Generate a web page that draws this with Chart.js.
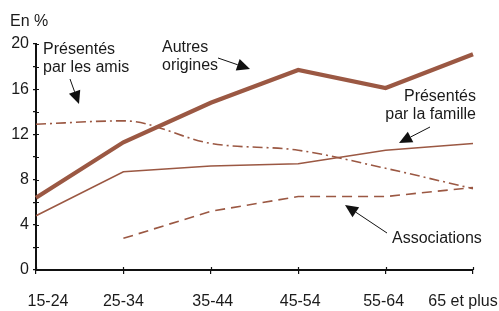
<!DOCTYPE html>
<html>
<head>
<meta charset="utf-8">
<script src="https://cdn.jsdelivr.net/npm/chart.js@4/dist/chart.umd.min.js"></script>
<style>
  html, body { margin: 0; padding: 0; background: #fff; }
  #wrap { width: 499px; height: 311px; }
</style>
</head>
<body>
<div id="wrap"><canvas id="chart" width="499" height="311"></canvas></div>
<script>
// tranches d'age et series (en %)
const ages = ['15-24', '25-34', '35-44', '45-54', '55-64', '65 et plus'];
const autresOrigines = [6.4, 11.3, 14.8, 17.7, 16.1, 19.1];
const parFamille = [4.8, 8.7, 9.2, 9.4, 10.6, 11.2];
const parAmis = [12.9, 13.2, 11.2, 10.6, 9.0, 7.2];
const associations = [null, 2.8, 5.2, 6.5, 6.5, 7.3];
const yTickLabels = [0, 4, 8, 12, 16, 20];

const brun = '#9b5843';
const FONT = '"Liberation Sans", Arial, Helvetica, sans-serif';

// decalage des libelles de l'axe x (le dernier doit tenir dans le cadre)
const xLabelShift = [12, 0, 2, 2, -2, -10];

function arrow(ctx, x1, y1, x2, y2) {
    const ang = Math.atan2(y2 - y1, x2 - x1);
    const len = 13, half = 6;
    const bx = x2 - len * Math.cos(ang), by = y2 - len * Math.sin(ang);
    ctx.beginPath();
    ctx.moveTo(x1, y1);
    ctx.lineTo(bx, by);
    ctx.strokeStyle = '#111';
    ctx.lineWidth = 1;
    ctx.stroke();
    ctx.beginPath();
    ctx.moveTo(x2, y2);
    ctx.lineTo(bx + half * Math.sin(ang), by - half * Math.cos(ang));
    ctx.lineTo(bx - half * Math.sin(ang), by + half * Math.cos(ang));
    ctx.closePath();
    ctx.fillStyle = '#111';
    ctx.fill();
}

const annotations = {
    id: 'annotations',
    afterDraw(chart) {
        const ctx = chart.ctx;
        const xs = chart.scales.x, ys = chart.scales.y;
        const area = chart.chartArea;
        ctx.save();

        // petites graduations qui traversent les axes
        ctx.strokeStyle = '#111';
        ctx.lineWidth = 1.2;
        ctx.beginPath();
        ys.ticks.forEach(t => {
            const y = Math.round(ys.getPixelForValue(t.value)) + 0.5;
            ctx.moveTo(area.left, y);
            ctx.lineTo(area.left + 3, y);
        });
        ages.forEach((a, i) => {
            const x = Math.round(xs.getPixelForValue(i)) + 0.5;
            ctx.moveTo(x, area.bottom);
            ctx.lineTo(x, area.bottom - 3);
        });
        ctx.stroke();

        ctx.font = '16px ' + FONT;
        ctx.fillStyle = '#1a1a1a';
        ctx.textBaseline = 'middle';

        // libelles de l'axe x
        ctx.textAlign = 'center';
        ages.forEach((a, i) => {
            ctx.fillText(a, xs.getPixelForValue(i) + xLabelShift[i], 302);
        });

        ctx.textAlign = 'left';
        ctx.fillText('En %', 10, 22);
        ctx.fillText('Présentés', 43, 50);
        ctx.fillText('par les amis', 43, 68);
        ctx.fillText('Autres', 162, 48);
        ctx.fillText('origines', 162, 66);
        ctx.fillText('Associations', 392, 239);
        ctx.textAlign = 'right';
        ctx.fillText('Présentés', 476, 97);
        ctx.fillText('par la famille', 476, 115);

        arrow(ctx, 70, 79, 79, 104);
        arrow(ctx, 218, 58, 250, 69);
        arrow(ctx, 430, 127, 399, 143);
        arrow(ctx, 387, 233, 345, 205);
        ctx.restore();
    }
};

new Chart(document.getElementById('chart'), {
    type: 'line',
    data: {
        labels: ages,
        datasets: [
            { label: 'Autres origines', data: autresOrigines, borderColor: brun, borderWidth: 4.2, tension: 0 },
            { label: 'Présentés par la famille', data: parFamille, borderColor: brun, borderWidth: 1.6, tension: 0 },
            { label: 'Présentés par les amis', data: parAmis, borderColor: brun, borderWidth: 1.6,
              borderDash: [10, 4, 2, 4], cubicInterpolationMode: 'monotone' },
            { label: 'Associations', data: associations, borderColor: brun, borderWidth: 1.6,
              borderDash: [10, 6], tension: 0 }
        ]
    },
    options: {
        responsive: false,
        animation: false,
        layout: { padding: { top: 44, right: 26, left: 0, bottom: 0 } },
        elements: { point: { radius: 0 } },
        plugins: { legend: { display: false }, tooltip: { enabled: false } },
        scales: {
            x: {
                offset: false,
                grid: { drawOnChartArea: false, color: '#111', tickLength: 4, lineWidth: 1.2 },
                border: { color: '#111', width: 2 },
                ticks: { display: false },
                afterFit: s => { s.height = 41; }
            },
            y: {
                min: 0, max: 20,
                grid: { drawOnChartArea: false, color: '#111', tickLength: 3, lineWidth: 1.2 },
                border: { color: '#111', width: 2 },
                ticks: {
                    stepSize: 2, padding: 4, color: '#1a1a1a',
                    font: { family: FONT, size: 16 },
                    callback: v => yTickLabels.includes(v) ? String(v) : ''
                },
                afterFit: s => { s.width = 36; }
            }
        }
    },
    plugins: [annotations]
});
</script>
</body>
</html>
